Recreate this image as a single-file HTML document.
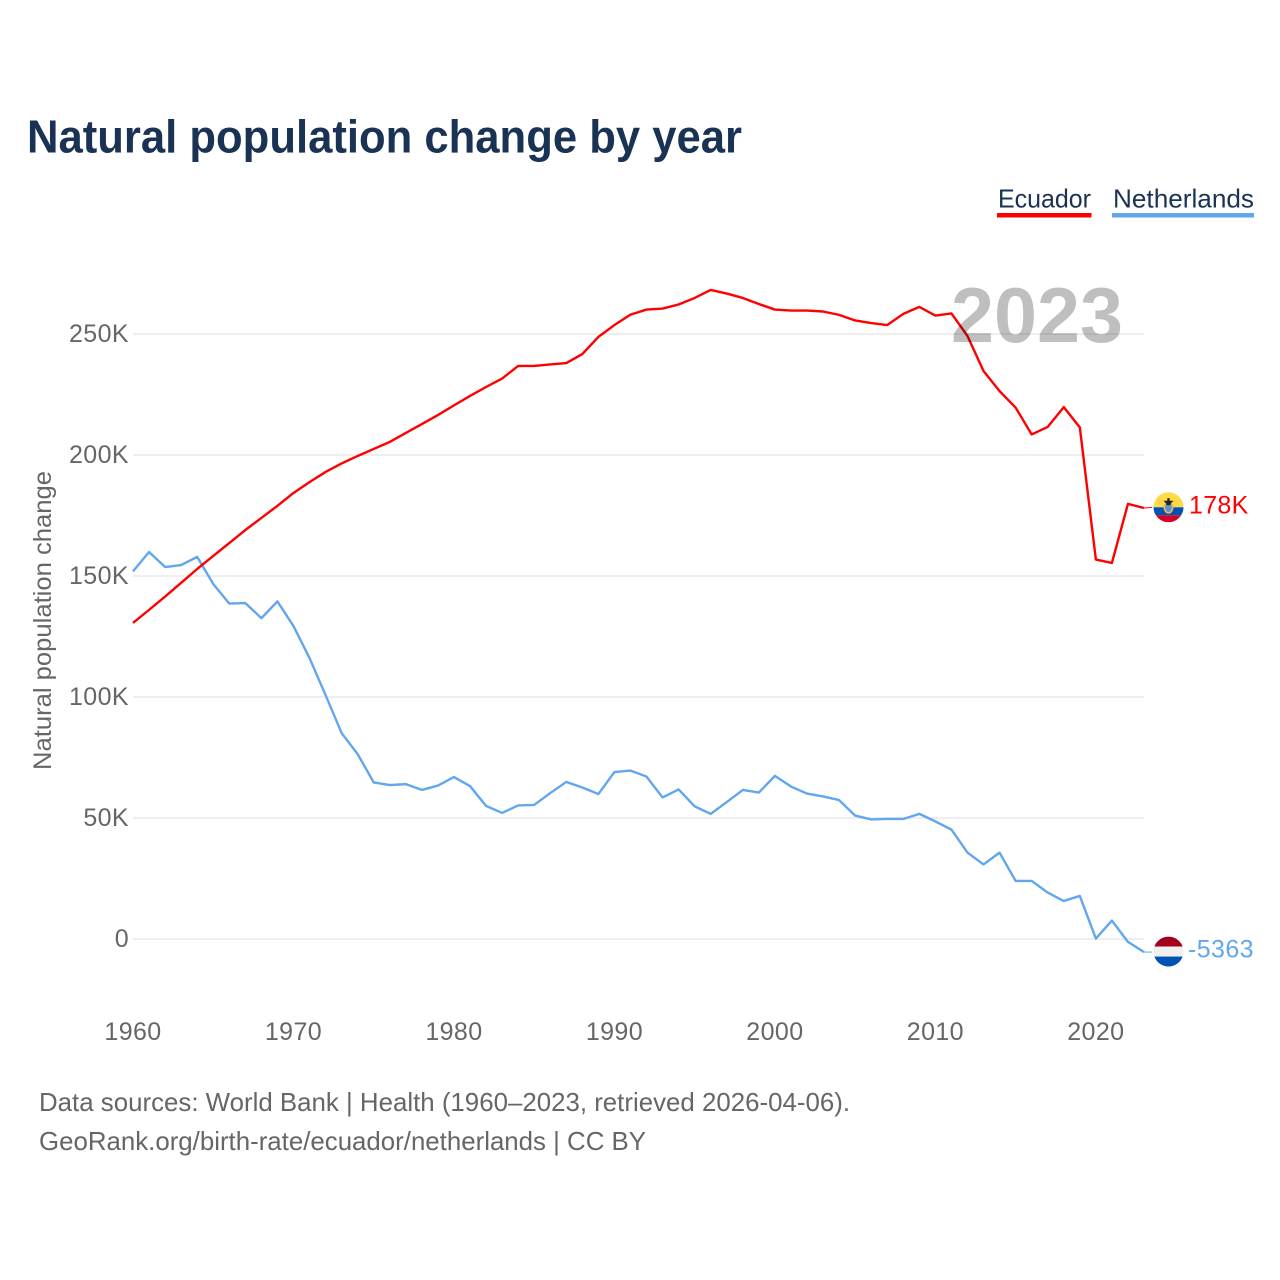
<!DOCTYPE html>
<html lang="en">
<head>
<meta charset="utf-8">
<title>Natural population change by year</title>
<style>
html,body{margin:0;padding:0;background:#fff;}
svg{display:block;font-family:"Liberation Sans",sans-serif;}
</style>
</head>
<body>
<svg id="chart" width="1280" height="1280" viewBox="0 0 1280 1280" xmlns="http://www.w3.org/2000/svg">
  <rect width="1280" height="1280" fill="#ffffff"/>
  <text x="27" y="152.5" font-size="46" font-weight="700" fill="#1a3354" textLength="715" lengthAdjust="spacingAndGlyphs">Natural population change by year</text>
  <g>
    <text x="998" y="207.5" font-size="26" fill="#1a3354" textLength="93" lengthAdjust="spacingAndGlyphs">Ecuador</text>
    <rect x="997" y="213" width="94.5" height="4.5" fill="#ff0000"/>
    <text x="1113" y="207.5" font-size="26" fill="#1a3354" textLength="141" lengthAdjust="spacingAndGlyphs">Netherlands</text>
    <rect x="1112" y="213" width="142" height="4.5" fill="#62a6ee"/>
  </g>
  <g id="grid"></g>
  <g id="yticks"></g>
  <g id="xticks"></g>
  <text transform="translate(51,770) rotate(-90)" font-size="25" fill="#666666" textLength="299" lengthAdjust="spacingAndGlyphs">Natural population change</text>
  <g id="series"></g>
  <text id="year-watermark" x="951" y="342" font-size="78" font-weight="700" fill="#000000" fill-opacity="0.25" textLength="172" lengthAdjust="spacingAndGlyphs">2023</text>
  <g id="ends"></g>
  <text x="39" y="1111" font-size="26" fill="#666666" textLength="811" lengthAdjust="spacingAndGlyphs">Data sources: World Bank | Health (1960–2023, retrieved 2026-04-06).</text>
  <text x="39" y="1150" font-size="26" fill="#666666" textLength="607" lengthAdjust="spacingAndGlyphs">GeoRank.org/birth-rate/ecuador/netherlands | CC BY</text>
</svg>
<script>
const startYear = 1960;
const xTickLabels = [1960, 1970, 1980, 1990, 2000, 2010, 2020];
const yTickValues = [0, 50, 100, 150, 200, 250];
const yTickLabels = ["0", "50K", "100K", "150K", "200K", "250K"];
const ecuadorValues = [
  130.6, 136.0, 141.5, 147.2, 152.9, 158.3, 163.6, 169.0, 174.0, 179.0,
  184.3, 188.8, 193.0, 196.5, 199.6, 202.5, 205.4, 209.1, 212.8, 216.5,
  220.5, 224.4, 228.1, 231.6, 236.8, 236.8, 237.4, 238.0, 241.7, 248.8,
  253.7, 258.0, 260.1, 260.5, 262.2, 264.9, 268.2, 266.7, 264.9, 262.4,
  260.1, 259.7, 259.7, 259.3, 257.9, 255.6, 254.5, 253.7, 258.3, 261.2,
  257.6, 258.5, 249.2, 234.7, 226.4, 219.6, 208.5, 211.6, 219.8, 211.4,
  156.8, 155.4, 179.8, 178.1
];
const netherlandsValues = [
  151.9, 159.9, 153.7, 154.5, 157.9, 146.7, 138.6, 138.8, 132.6, 139.5,
  129.3, 116.1, 100.8, 85.1, 76.4, 64.7, 63.6, 64.0, 61.6, 63.4,
  66.9, 63.2, 55.0, 52.1, 55.2, 55.4, 60.3, 64.9, 62.6, 59.9,
  69.0, 69.6, 67.1, 58.5, 61.8, 54.8, 51.7, 56.6, 61.6, 60.5,
  67.4, 63.0, 60.1, 58.9, 57.4, 51.0, 49.4, 49.6, 49.6, 51.7,
  48.6, 45.2, 35.7, 30.8, 35.7, 24.0, 24.0, 19.2, 15.7, 17.8,
  0.2, 7.6, -1.2, -5.4
];
const ecuadorEndLabel = "178K";
const netherlandsEndLabel = "-5363";

const SVG_NS = "http://www.w3.org/2000/svg";
const xScale = function (year) { return 133 + (year - 1960) * (1144 - 133) / 63; };
const yScale = function (value) { return 939 - value * 2.42; };

function make(tag, parent) {
  const el = document.createElementNS(SVG_NS, tag);
  parent.appendChild(el);
  return el;
}
function setAll(el, attrs) {
  Object.keys(attrs).forEach(function (k) { el.setAttribute(k, attrs[k]); });
}

const gridGroup = document.getElementById("grid");
const yTickGroup = document.getElementById("yticks");
const xTickGroup = document.getElementById("xticks");
const seriesGroup = document.getElementById("series");
const endGroup = document.getElementById("ends");

yTickValues.forEach(function (value, i) {
  const line = make("line", gridGroup);
  
  
  setAll(line, { x1: 133, x2: 1144, y1: yScale(value), y2: yScale(value), stroke: "#eeeeee", "stroke-width": 2 });
  const label = make("text", yTickGroup);
  
  
  setAll(label, { x: 129, y: yScale(value) + 8, "text-anchor": "end", "font-size": 25, "letter-spacing": "0.4", fill: "#666666" });
  label.textContent = yTickLabels[i];
});

xTickLabels.forEach(function (year) {
  const label = make("text", xTickGroup);
  
  
  setAll(label, { x: xScale(year), y: 1040, "text-anchor": "middle", "font-size": 25, "letter-spacing": "0.4", fill: "#666666" });
  label.textContent = String(year);
});

function linePath(values) {
  return values.map(function (v, i) {
    return (i ? "L" : "M") + xScale(startYear + i).toFixed(2) + " " + yScale(v).toFixed(2);
  }).join("");
}

const netherlandsLine = make("path", seriesGroup);


setAll(netherlandsLine, { d: linePath(netherlandsValues), fill: "none", stroke: "#62a6ee", "stroke-width": 2.4, "stroke-linejoin": "round" });

const ecuadorLine = make("path", seriesGroup);


setAll(ecuadorLine, { d: linePath(ecuadorValues), fill: "none", stroke: "#ff0000", "stroke-width": 2.4, "stroke-linejoin": "round" });

const lastX = xScale(startYear + ecuadorValues.length - 1);
const ecuadorEndY = yScale(ecuadorValues[ecuadorValues.length - 1]);
const netherlandsEndY = yScale(netherlandsValues[netherlandsValues.length - 1]);

const ecuadorConnector = make("line", endGroup);


setAll(ecuadorConnector, { x1: lastX, x2: lastX + 8, y1: ecuadorEndY, y2: ecuadorEndY - 0.5, stroke: "#ff0000", "stroke-width": 1 });

const netherlandsConnector = make("line", endGroup);


setAll(netherlandsConnector, { x1: lastX, x2: lastX + 8, y1: netherlandsEndY, y2: netherlandsEndY, stroke: "#62a6ee", "stroke-width": 1 });

const defs = make("defs", endGroup);
const clip = make("clipPath", defs);
clip.setAttribute("id", "flag-clip");
const clipCircle = make("circle", clip);
setAll(clipCircle, { cx: 0, cy: 0, r: 15 });

function band(parent, y, h, color) {
  const r = make("rect", parent);
  setAll(r, { x: -15, y: y, width: 30, height: h, fill: color });
  return r;
}

const ecuadorFlag = make("g", endGroup);


setAll(ecuadorFlag, { transform: "translate(" + (lastX + 24.5) + "," + (ecuadorEndY - 0.7) + ")", "clip-path": "url(#flag-clip)" });
band(ecuadorFlag, -15, 15, "#ffda44");
band(ecuadorFlag, 0, 8, "#0052b4");
band(ecuadorFlag, 8, 7, "#d80027");
const crestOuter = make("ellipse", ecuadorFlag);
setAll(crestOuter, { cx: 0, cy: 0, rx: 5, ry: 6.5, fill: "#e8b94a" });
const crestInner = make("ellipse", ecuadorFlag);
setAll(crestInner, { cx: 0, cy: 0, rx: 3.2, ry: 4.8, fill: "#5a93d6" });
const crestBird = make("path", ecuadorFlag);
setAll(crestBird, { d: "M-5-6.5H5L2-3.5V-2.2H-2V-3.5ZM-1.2-9H1.2V-6.5H-1.2Z", fill: "#222222" });

const ecuadorValueLabel = make("text", endGroup);


setAll(ecuadorValueLabel, { x: lastX + 45, y: ecuadorEndY + 5.5, "font-size": 25, "letter-spacing": "0.3", fill: "#ff0000" });
ecuadorValueLabel.textContent = ecuadorEndLabel;

const netherlandsFlag = make("g", endGroup);


setAll(netherlandsFlag, { transform: "translate(" + (lastX + 24.5) + "," + (netherlandsEndY - 0.5) + ")", "clip-path": "url(#flag-clip)" });
band(netherlandsFlag, -15, 10, "#a2001d");
band(netherlandsFlag, -5, 10, "#f0f0f0");
band(netherlandsFlag, 5, 10, "#0052b4");

const netherlandsValueLabel = make("text", endGroup);


setAll(netherlandsValueLabel, { x: lastX + 44, y: netherlandsEndY + 5.5, "font-size": 25, "letter-spacing": "0.4", fill: "#62a6ee" });
netherlandsValueLabel.textContent = netherlandsEndLabel;
</script>
</body>
</html>
